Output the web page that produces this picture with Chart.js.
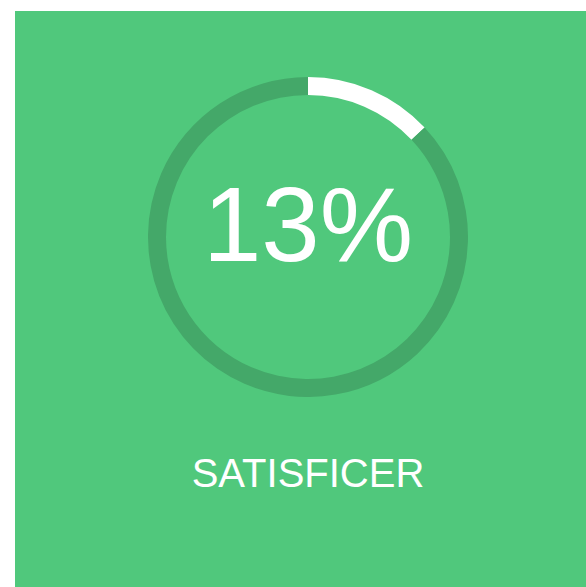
<!DOCTYPE html>
<html>
<head>
<meta charset="utf-8">
<script src="https://cdn.jsdelivr.net/npm/chart.js@4/dist/chart.umd.min.js"></script>
<style>
  html, body { margin: 0; padding: 0; background: #ffffff; width: 586px; height: 587px; overflow: hidden; }
  #panel { position: absolute; left: 15px; top: 11px; width: 571px; height: 576px; background: #50c87c; }
  #ring { position: absolute; left: 148px; top: 77px; width: 320px; height: 320px; }
  .label { position: absolute; left: 0; width: 616px; text-align: center; color: #ffffff;
           font-family: "Liberation Sans", Arial, sans-serif; white-space: nowrap; }
  #pct { top: 172px; font-size: 105px; line-height: 105px; }
  #name { top: 453px; font-size: 40px; line-height: 40px; }
</style>
</head>
<body>
<div id="panel"></div>
<div id="ring"><canvas id="gauge" width="320" height="320"></canvas></div>
<div class="label" id="pct"></div>
<div class="label" id="name"></div>
<script>
  // --- DATA ---
  const categories = ['SATISFICER', 'Rest'];
  const shareValues = [13, 87];
  const ringColors = ['#ffffff', '#44a869'];

  document.getElementById('pct').textContent = shareValues[0] + '%';
  document.getElementById('name').textContent = categories[0];

  new Chart(document.getElementById('gauge'), {
    type: 'doughnut',
    data: {
      labels: categories,
      datasets: [{
        data: shareValues,
        backgroundColor: ringColors,
        borderWidth: 0,
        hoverOffset: 0
      }]
    },
    options: {
      responsive: false,
      animation: false,
      cutout: '88.75%',
      rotation: 0,
      layout: { padding: 0 },
      plugins: {
        legend: { display: false },
        tooltip: { enabled: false }
      }
    }
  });
</script>
</body>
</html>
